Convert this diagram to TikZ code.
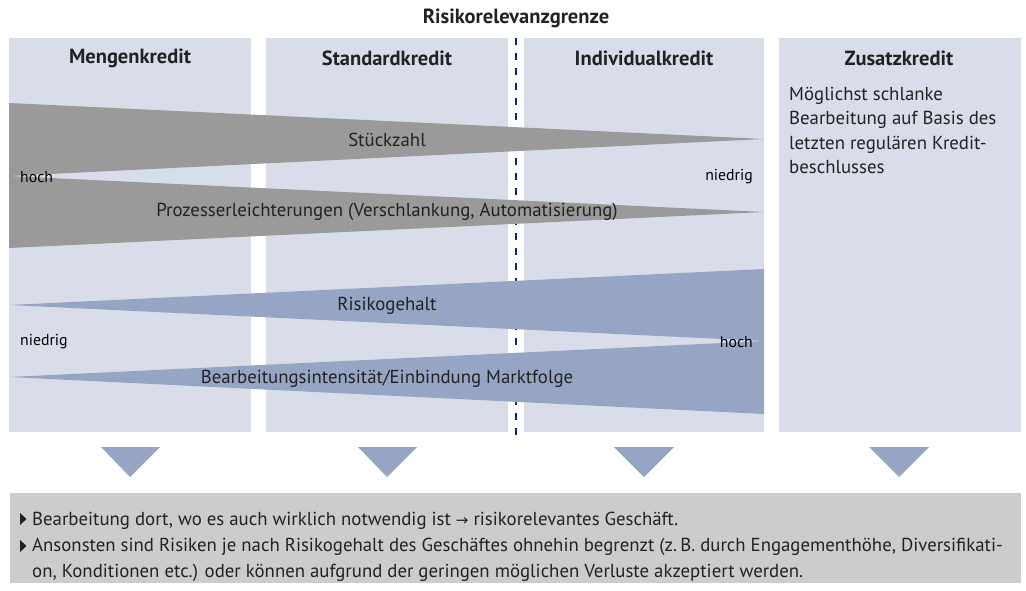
\documentclass[tikz,border=0pt]{standalone}
\usepackage{fontspec}
\setmainfont{PT Sans}
\newfontfamily\dejavu{DejaVu Sans}
\definecolor{colfill}{HTML}{D9DDE9}
\definecolor{wgray}{HTML}{9A9A9A}
\definecolor{wblue}{HTML}{97A5C4}
\definecolor{boxgray}{HTML}{CCCCCC}
\definecolor{navy}{HTML}{0B2D62}
\definecolor{txt}{HTML}{222222}
\tikzset{
  col/.style={fill=colfill, draw=none},
  head/.style={font=\bfseries\fontsize{20.5}{24}\selectfont, text=txt, inner sep=0pt},
  wlabel/.style={font=\fontsize{18.8}{22}\selectfont, text=txt, inner sep=0pt},
  small/.style={font=\fontsize{15.8}{18}\selectfont, text=black, inner sep=0pt},
  tri/.style={fill=wblue, draw=none},
  bullet/.style={fill=txt, draw=none},
  btext/.style={anchor=base west, inner sep=0pt, text=txt, align=left, font=\fontsize{18.8}{26}\selectfont},
}
\begin{document}
\begin{tikzpicture}[x=1pt,y=-1pt]
\useasboundingbox (0,0) rectangle (1026,590);
% columns
\fill[col] (9,38) rectangle (251,432);
\fill[col] (266,38) rectangle (508,432);
\fill[col] (524,38) rectangle (764,432);
\fill[col] (779,38) rectangle (1021,432);
% dashed border
\coordinate (dtop) at (516,38);
\coordinate (dbot) at (516,437);
\draw[navy, line width=2.2pt, dash pattern=on 7pt off 8pt] (dtop) -- (dbot);
\node[head] (title) at (516,18) {Risikorelevanzgrenze};
% headings
\node[head] (h1) at (130,58) {Mengenkredit};
\node[head] (h2) at (387,58) {Standardkredit};
\node[head] (h3) at (644,58) {Individualkredit};
\node[head] (h4) at (899,58) {Zusatzkredit};
% Zusatz text
\node[wlabel, anchor=base west, align=left, font=\fontsize{18.8}{24.5}\selectfont] (ztext) at (789,173.5)
  {Möglichst schlanke\\Bearbeitung auf Basis des\\letzten regulären Kredit-\\beschlusses};
% gray wedges
\fill[wgray] (9,103) -- (764,139) -- (9,176) -- cycle;
\fill[wgray] (9,176) -- (764,212) -- (9,248) -- cycle;
% blue wedges
\fill[wblue] (9,305) -- (764,269) -- (764,341) -- cycle;
\fill[wblue] (9,377) -- (764,341) -- (764,414) -- cycle;
% wedge labels
\node[wlabel] (l1) at (387,140) {Stückzahl};
\node[wlabel] (l2) at (387,212) {Prozesserleichterungen (Verschlankung, Automatisierung)};
\node[wlabel] (l3) at (387,306) {Risikogehalt};
\node[wlabel] (l4) at (387,379) {Bearbeitungsintensität/Einbindung Marktfolge};
% hoch / niedrig
\node[small, anchor=west] (hoch1) at (20,177) {hoch};
\node[small, anchor=east] (nied1) at (753,177) {niedrig};
\node[small, anchor=west] (nied2) at (20,342) {niedrig};
\node[small, anchor=east] (hoch2) at (753,342) {hoch};
% down triangles
\fill[tri] (101,447) -- (160,447) -- (130,477) -- cycle;
\fill[tri] (358,447) -- (417,447) -- (387,477) -- cycle;
\fill[tri] (614,447) -- (674,447) -- (644,477) -- cycle;
\fill[tri] (869,447) -- (929,447) -- (899,477) -- cycle;
% bottom box
\fill[boxgray] (10,493) rectangle (1021,583);
\fill[bullet] (20,513) -- (26.5,519) -- (20,525) -- cycle;
\fill[bullet] (20,540) -- (26.5,546) -- (20,552) -- cycle;
\node[btext] (b1) at (32,525)
  {Bearbeitung dort, wo es auch wirklich notwendig ist {\dejavu\fontsize{15}{15}\selectfont →} risikorelevantes Geschäft.};
\node[btext] (b2) at (32,577)
  {Ansonsten sind Risiken je nach Risikogehalt des Geschäftes ohnehin begrenzt (z.\,B. durch Engagementhöhe, Diversifikati-\\on, Konditionen etc.) oder können aufgrund der geringen möglichen Verluste akzeptiert werden.};
\end{tikzpicture}
\end{document}
